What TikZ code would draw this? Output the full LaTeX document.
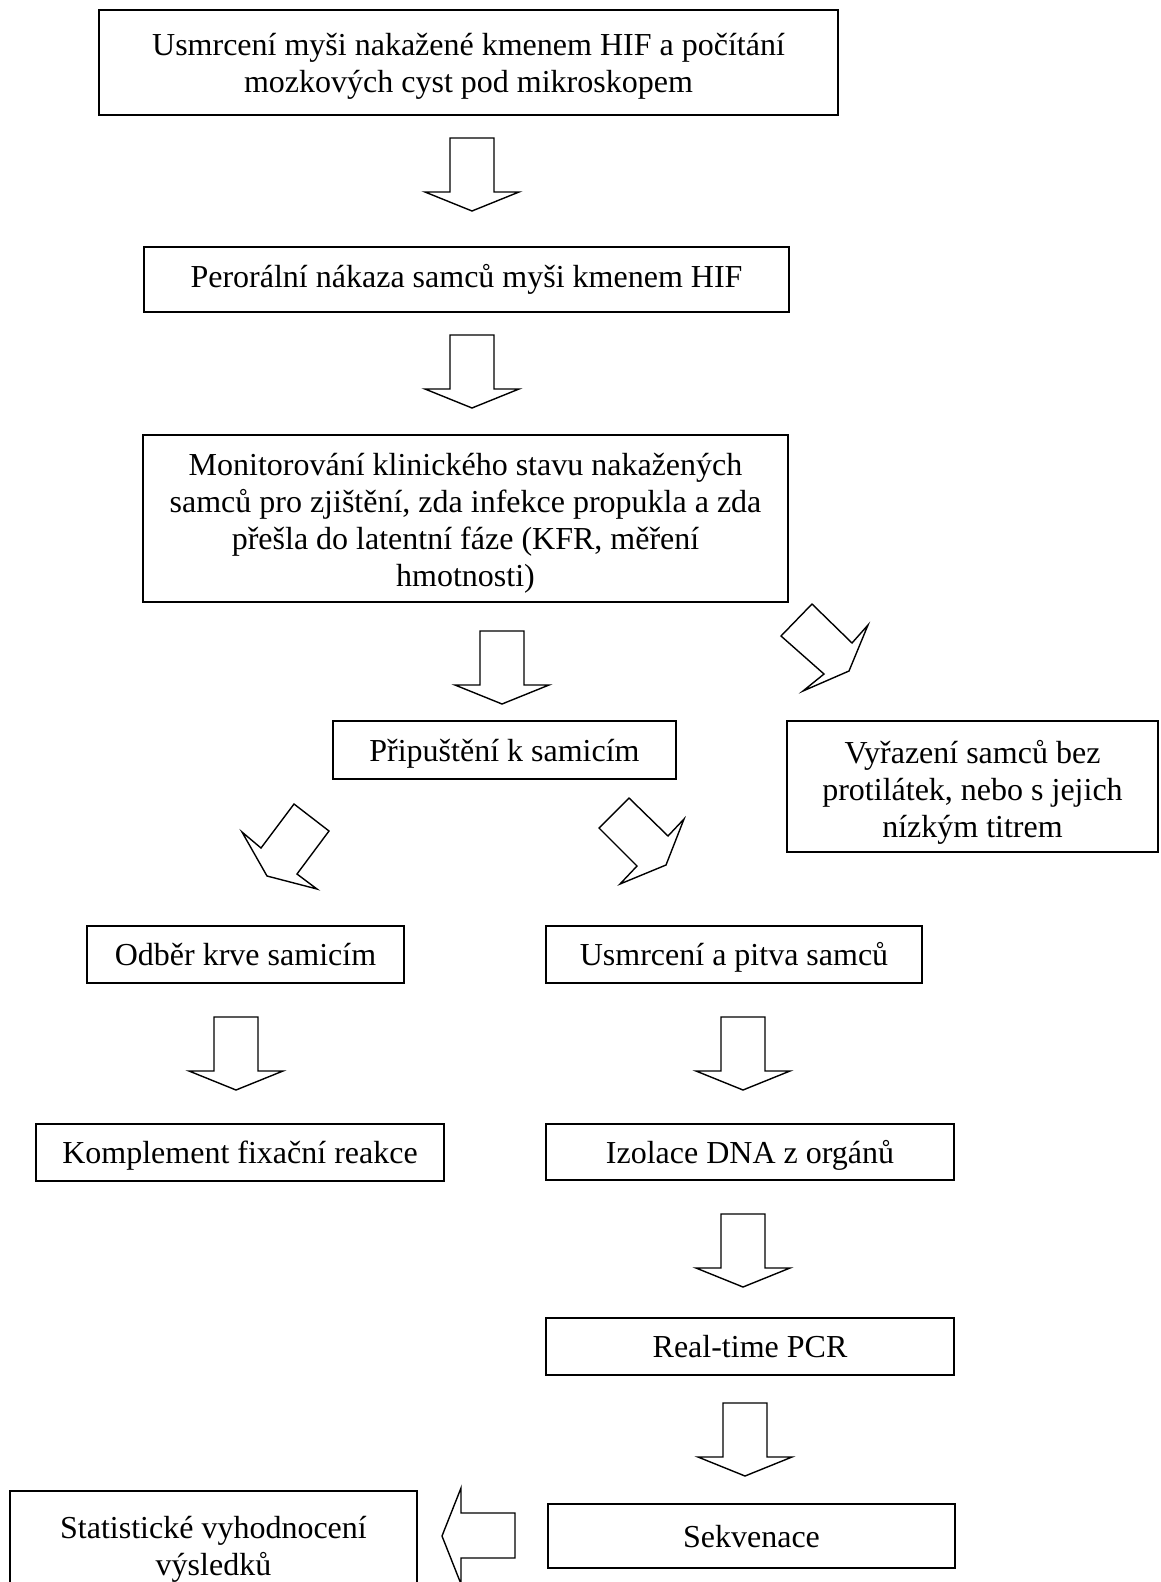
\documentclass[tikz,border=0pt]{standalone}
\usepackage{fontspec}
\setmainfont{Liberation Serif}
\begin{document}
\begin{tikzpicture}[x=1pt,y=-1pt,
  box/.style={draw, line width=1.8pt, inner sep=0pt, align=center, font=\fontsize{32}{37}\selectfont},
  one/.style={text height=22pt, text depth=0pt},
  blk/.style={draw, line width=1.4pt, line join=miter, fill=white},
  downblock/.pic={\draw[blk] (-22,0) -- (22,0) -- (22,54) -- (47,54) -- (0,73) -- (-47,54) -- (-22,54) -- cycle;}]
\useasboundingbox (0,0) rectangle (1160,1582);
\fill[white] (0,0) rectangle (1160,1582);

% boxes
\node[box, minimum width=739pt, minimum height=105pt, text height=67pt, text depth=7pt] (b1) at (468.5,62.5) {Usmrcení myši nakažené kmenem HIF a počítání\\mozkových cyst pod mikroskopem};
\node[box, minimum width=645pt, minimum height=65pt] (b2) at (466.5,279.5) {Perorální nákaza samců myši kmenem HIF};
\node[box, minimum width=645pt, minimum height=167pt, text height=142pt, text depth=7pt] (b3) at (465.5,518.5) {Monitorování klinického stavu nakažených\\samců pro zjištění, zda infekce propukla a zda\\přešla do latentní fáze (KFR, měření\\hmotnosti)};
\node[box, one, minimum width=343pt, minimum height=58pt] (b4) at (504.5,750) {Připuštění k samicím};
\node[box, minimum width=371pt, minimum height=131pt, text height=108pt, text depth=7pt] (b5) at (972.5,786.5) {Vyřazení samců bez\\protilátek, nebo s jejich\\nízkým titrem};
\node[box, one, minimum width=317pt, minimum height=57pt] (b6) at (245.5,954.5) {Odběr krve samicím};
\node[box, one, minimum width=376pt, minimum height=57pt] (b7) at (734,954.5) {Usmrcení a pitva samců};
\node[box, one, minimum width=408pt, minimum height=57pt] (b8) at (240,1152.5) {Komplement fixační reakce};
\node[box, one, minimum width=408pt, minimum height=56pt] (b9) at (750,1152) {Izolace DNA z orgánů};
\node[box, one, minimum width=408pt, minimum height=57pt] (b10) at (750,1346.5) {Real-time PCR};
\node[box, one, minimum width=407pt, minimum height=64pt] (b11) at (751.5,1536) {Sekvenace};
\node[box, minimum width=407pt, minimum height=116pt] (b12) at (213.5,1549) {Statistické vyhodnocení\\výsledků};

% vertical block arrows
\pic at (472,138) {downblock};
\pic at (472,335) {downblock};
\pic at (502,631) {downblock};
\pic at (236,1017) {downblock};
\pic at (743,1017) {downblock};
\pic at (743,1214) {downblock};
\pic at (745,1403) {downblock};

% diagonal block arrows
\draw[blk] (812,604) -- (852,643) -- (868,625) -- (849,671) -- (803,691) -- (824,674) -- (781,636) -- cycle;
\draw[blk] (294,804) -- (329,831) -- (297,874) -- (317,889) -- (267,876) -- (242,832) -- (261,848) -- cycle;
\draw[blk] (629,798) -- (668,836) -- (684,819) -- (666,865) -- (620,884) -- (637,866) -- (599,828) -- cycle;

% left block arrow
\draw[blk] (515,1513) -- (461,1513) -- (461,1488) -- (442,1536) -- (461,1584) -- (461,1558) -- (515,1558) -- cycle;
\end{tikzpicture}
\end{document}
